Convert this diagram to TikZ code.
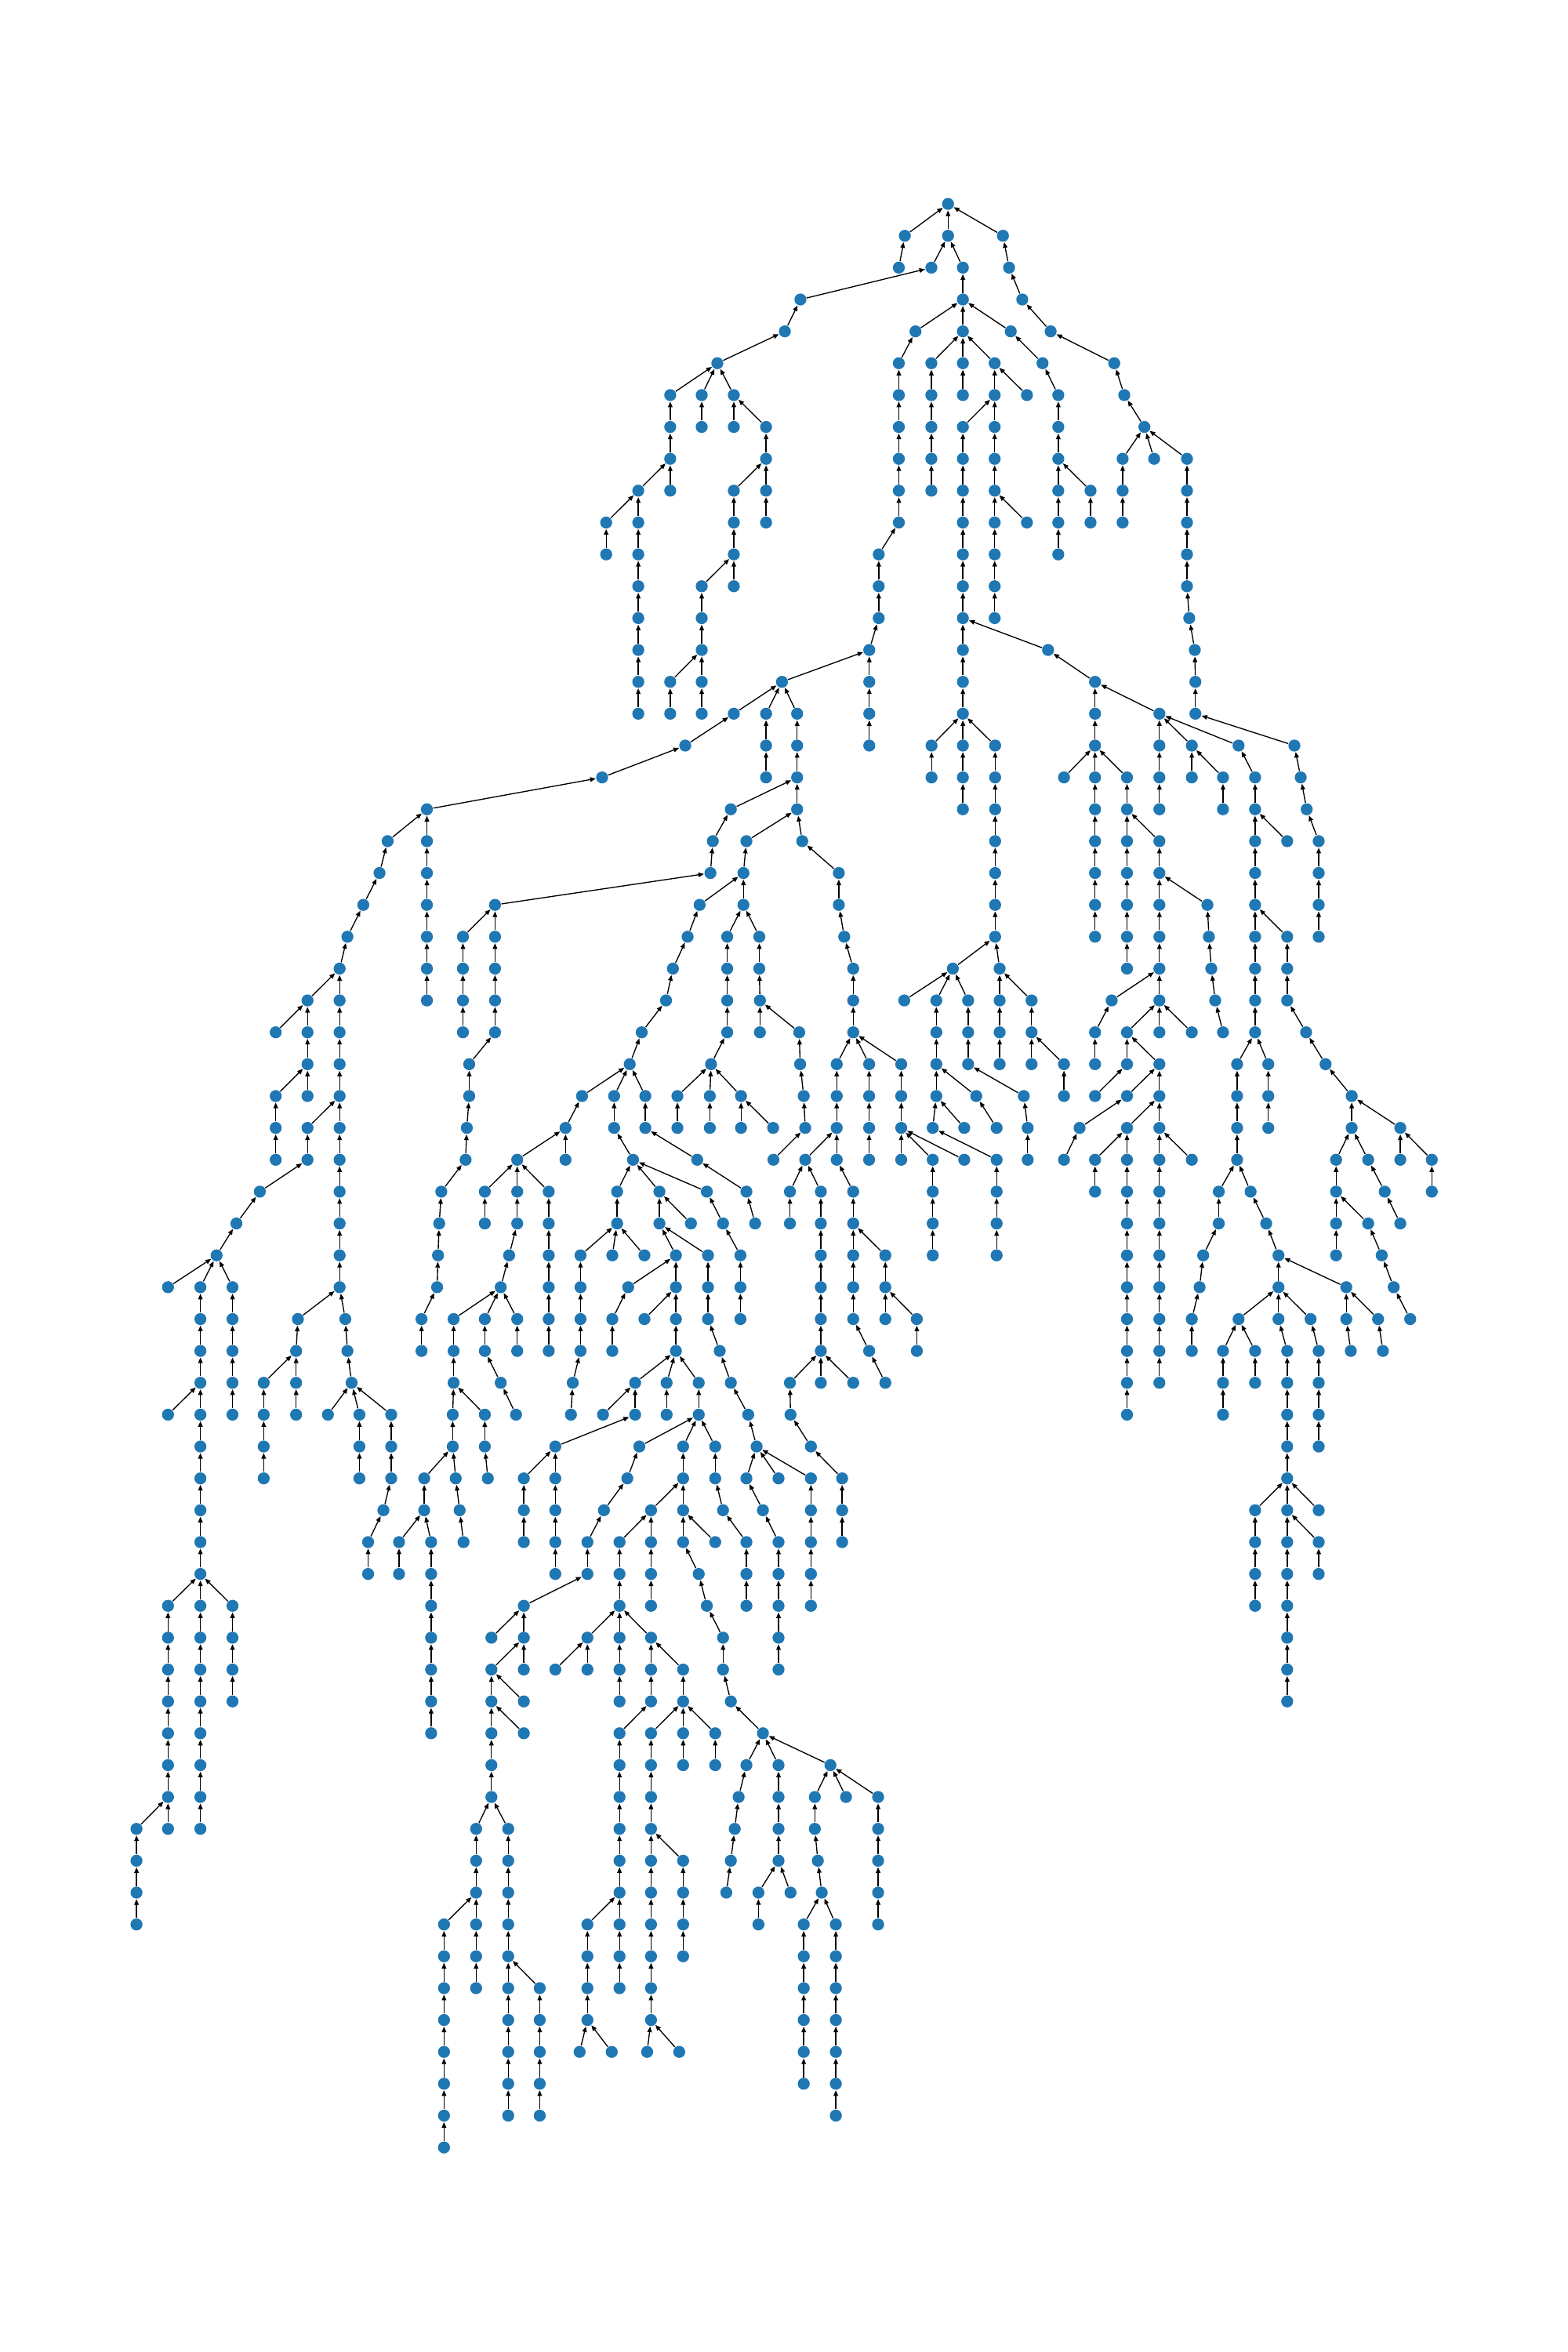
\documentclass[tikz,border=0pt]{standalone}
\usepackage{tikz}
\usetikzlibrary{arrows.meta}
\definecolor{nxblue}{RGB}{31,119,180}
\tikzset{
  >={Triangle[length=0.75mm,width=0.6mm]},
  vertex/.style={circle, fill=nxblue, draw=none, inner sep=0pt, minimum size=1.6mm},
  link/.style={->, line width=0.4pt, draw=black}
}
\begin{document}
\begin{tikzpicture}[x=0.2mm, y=-4.248mm]
  \useasboundingbox (0,0) rectangle (1045,73.82);
  \node[vertex] (v1) at (632,6.4) {};
  \foreach \id/\x/\lvl/\up in {
    2/603.2/1/1, 3/632/1/1, 4/668.6/1/1,
    5/599.2/2/2, 6/620.9/2/3, 7/641.9/2/3, 8/672.7/2/4,
    9/533.6/3/6, 10/641.9/3/7, 11/681.5/3/8,
    12/523.2/4/9, 13/610.3/4/10, 14/641.9/4/10, 15/673.8/4/10, 16/700.4/4/11,
    17/478.2/5/12, 18/599.2/5/13, 19/620.9/5/14, 20/641.9/5/14, 21/663.1/5/14, 22/695/5/15, 23/742.8/5/16,
    24/446.8/6/17, 25/467.8/6/17, 26/489.2/6/17, 27/599.2/6/18, 28/620.9/6/19, 29/641.9/6/20, 30/663.1/6/21, 31/684.6/6/21, 32/705.5/6/22, 33/749.5/6/23,
    34/446.8/7/24, 35/467.8/7/25, 36/489.2/7/26, 37/510.7/7/26, 38/599.2/7/27, 39/620.9/7/28, 40/641.9/7/30, 41/663.1/7/30, 42/705.5/7/32, 43/762.9/7/33,
    44/446.8/8/34, 45/510.7/8/37, 46/599.2/8/38, 47/620.9/8/39, 48/641.9/8/40, 49/663.1/8/41, 50/705.5/8/42, 51/748.4/8/43, 52/769.4/8/43, 53/791.3/8/43,
    54/425.5/9/44, 55/446.8/9/44, 56/489.2/9/45, 57/510.7/9/45, 58/599.2/9/46, 59/620.9/9/47, 60/641.9/9/48, 61/663.1/9/49, 62/705.5/9/50, 63/727/9/50, 64/748.4/9/51, 65/791.3/9/53,
    66/404.1/10/54, 67/425.5/10/54, 68/489.2/10/56, 69/510.7/10/57, 70/599.2/10/58, 71/641.9/10/60, 72/663.1/10/61, 73/684.6/10/61, 74/705.5/10/62, 75/727/10/63, 76/748.4/10/64, 77/791.3/10/65,
    78/404.1/11/66, 79/425.5/11/67, 80/489.2/11/68, 81/585.8/11/70, 82/641.9/11/71, 83/663.1/11/72, 84/705.5/11/74, 85/791.3/11/77,
    86/425.5/12/79, 87/467.8/12/80, 88/489.2/12/80, 89/585.8/12/81, 90/641.9/12/82, 91/663.1/12/83, 92/791.3/12/85,
    93/425.5/13/86, 94/467.8/13/87, 95/585.8/13/89, 96/641.9/13/90, 97/663.1/13/91, 98/792.8/13/92,
    99/425.5/14/93, 100/467.8/14/94, 101/579.5/14/95, 102/641.9/14/96, 103/698.7/14/96, 104/796.5/14/98,
    105/425.5/15/99, 106/446.8/15/100, 107/467.8/15/100, 108/521.3/15/101, 109/579.5/15/101, 110/641.9/15/102, 111/730/15/103, 112/796.9/15/104,
    113/425.5/16/105, 114/446.8/16/106, 115/467.8/16/107, 116/489.2/16/108, 117/510.7/16/108, 118/531.4/16/108, 119/579.5/16/109, 120/641.9/16/110, 121/730/16/111, 122/772.9/16/111, 123/796.9/16/112,
    124/456.8/17/116, 125/510.7/17/117, 126/531.4/17/118, 127/579.5/17/119, 128/621/17/120, 129/641.9/17/120, 130/663.4/17/120, 131/730/17/121, 132/772.9/17/122, 133/794.5/17/122, 134/825.7/17/122, 135/862.9/17/123,
    136/401.4/18/124, 137/510.7/18/125, 138/531.4/18/126, 139/621/18/128, 140/641.9/18/129, 141/663.4/18/130, 142/709.3/18/131, 143/730/18/131, 144/751.3/18/131, 145/772.9/18/132, 146/794.5/18/133, 147/815.3/18/133, 148/836.7/18/134, 149/867.1/18/135,
    150/284.6/19/136, 151/487.2/19/138, 152/531.4/19/138, 153/641.9/19/140, 154/663.4/19/141, 155/730/19/143, 156/751.3/19/144, 157/772.9/19/145, 158/815.3/19/147, 159/836.7/19/148, 160/871.1/19/149,
    161/258.4/20/150, 162/284.6/20/150, 163/475.2/20/151, 164/497.6/20/152, 165/534.8/20/152, 166/663.4/20/154, 167/730/20/155, 168/751.3/20/156, 169/772.9/20/156, 170/836.7/20/159, 171/858.1/20/159, 172/879.1/20/160,
    173/253/21/161, 174/284.6/21/162, 175/473.6/21/163, 176/495.6/21/164, 177/559.2/21/165, 178/663.4/21/166, 179/730/21/167, 180/751.3/21/168, 181/772.9/21/169, 182/836.7/21/170, 183/879.1/21/172,
    184/242.2/22/173, 185/284.6/22/174, 186/330/22/175, 187/466.4/22/176, 188/495.6/22/176, 189/559.2/22/177, 190/663.4/22/178, 191/730/22/179, 192/751.3/22/180, 193/772.9/22/181, 194/804.9/22/181, 195/836.7/22/182, 196/879.1/22/183,
    197/231.6/23/184, 198/284.6/23/185, 199/308.6/23/186, 200/330/23/186, 201/458.4/23/187, 202/484.8/23/188, 203/506.2/23/188, 204/562.8/23/189, 205/663.4/23/190, 206/730/23/191, 207/751.3/23/192, 208/772.9/23/193, 209/805.9/23/194, 210/836.7/23/195, 211/858.1/23/195, 212/879.1/23/196,
    213/226.4/24/197, 214/284.6/24/198, 215/308.6/24/199, 216/330/24/200, 217/448.6/24/201, 218/484.8/24/202, 219/506.2/24/203, 220/568.8/24/204, 221/635.2/24/205, 222/666.4/24/205, 223/751.3/24/207, 224/772.9/24/208, 225/807.5/24/209, 226/836.7/24/210, 227/858.1/24/211,
    228/205/25/213, 229/226.4/25/213, 230/284.6/25/214, 231/308.6/25/215, 232/330/25/216, 233/444/25/217, 234/484.8/25/218, 235/506.6/25/219, 236/568.8/25/220, 237/602.8/25/221, 238/624.2/25/221, 239/645.4/25/221, 240/666.4/25/222, 241/687.7/25/222, 242/741.1/25/224, 243/772.9/25/224, 244/810.1/25/225, 245/836.7/25/226, 246/858.1/25/227,
    247/183.8/26/228, 248/205/26/228, 249/226.4/26/229, 250/308.6/26/231, 251/330/26/232, 252/427.8/26/233, 253/484.8/26/234, 254/506.6/26/235, 255/532.8/26/235, 256/568.8/26/236, 257/624.2/26/238, 258/645.4/26/239, 259/666.4/26/240, 260/687.7/26/241, 261/730/26/242, 262/751.3/26/243, 263/772.9/26/243, 264/794.5/26/243, 265/815.3/26/244, 266/836.7/26/245, 267/870.7/26/246,
    268/205/27/248, 269/226.4/27/249, 270/312.8/27/251, 271/419.8/27/252, 272/474/27/253, 273/533.4/27/255, 274/557.8/27/256, 275/579.4/27/256, 276/600.8/27/256, 277/624.2/27/257, 278/645.4/27/258, 279/666.4/27/259, 280/687.7/27/260, 281/709.3/27/260, 282/730/27/261, 283/751.3/27/262, 284/772.9/27/262, 285/824.7/27/266, 286/845.5/27/266, 287/883.7/27/267,
    288/183.8/28/268, 289/205/28/268, 290/226.4/28/269, 291/312.8/28/270, 292/388/28/271, 293/409.4/28/271, 294/430.2/28/271, 295/451.6/28/272, 296/473.2/28/272, 297/494/28/272, 298/535.8/28/273, 299/557.8/28/274, 300/579.4/28/275, 301/600.8/28/276, 302/624.2/28/277, 303/650.8/28/277, 304/682.5/28/278, 305/709.3/28/281, 306/730/28/283, 307/751.3/28/284, 308/772.9/28/284, 309/824.7/28/285, 310/845.5/28/286, 311/901.1/28/287,
    312/183.8/29/288, 313/205/29/290, 314/226.4/29/290, 315/311.2/29/291, 316/377/29/292, 317/409.4/29/293, 318/430.2/29/294, 319/451.6/29/295, 320/473.2/29/296, 321/494/29/297, 322/515.4/29/297, 323/536.8/29/298, 324/557.8/29/299, 325/579.4/29/300, 326/600.8/29/301, 327/621.8/29/302, 328/642.8/29/302, 329/664.4/29/303, 330/685.1/29/304, 331/719.7/29/307, 332/751.3/29/308, 333/772.9/29/308, 334/824.7/29/309, 335/845.5/29/310, 336/901.1/29/311, 337/933.5/29/311,
    338/183.8/30/312, 339/205/30/313, 340/226.4/30/314, 341/310.4/30/315, 342/344.8/30/316, 343/377/30/316, 344/422/30/317, 345/464.8/30/318, 346/515.6/30/323, 347/536.8/30/324, 348/557.8/30/324, 349/579.4/30/325, 350/600.8/30/326, 351/621.8/30/326, 352/642.8/30/326, 353/664.4/30/327, 354/685.1/30/330, 355/709.3/30/331, 356/730/30/332, 357/751.3/30/332, 358/772.9/30/333, 359/794.5/30/333, 360/824.7/30/334, 361/890.7/30/336, 362/912.1/30/336, 363/933.5/30/337, 364/954.5/30/337,
    365/173.2/31/339, 366/226.4/31/340, 367/294.2/31/341, 368/323.2/31/342, 369/344.8/31/342, 370/365.8/31/342, 371/411.4/31/344, 372/439.6/31/344, 373/471.2/31/344, 374/497.6/31/345, 375/526.6/31/347, 376/547.2/31/347, 377/568.8/31/348, 378/621.8/31/351, 379/664.4/31/353, 380/730/31/356, 381/751.3/31/357, 382/772.9/31/358, 383/812.5/31/360, 384/833.7/31/360, 385/890.7/31/361, 386/923.1/31/362, 387/954.5/31/364,
    388/157.6/32/365, 389/226.4/32/366, 390/292.8/32/367, 391/323.2/32/368, 392/344.8/32/369, 393/365.8/32/370, 394/411.4/32/371, 395/439.6/32/372, 396/460.6/32/372, 397/482/32/373, 398/503.4/32/374, 399/526.6/32/375, 400/547.2/32/376, 401/568.8/32/377, 402/621.8/32/378, 403/664.4/32/379, 404/751.3/32/381, 405/772.9/32/382, 406/812.5/32/383, 407/844.1/32/384, 408/890.7/32/385, 409/912.1/32/385, 410/933.5/32/386,
    411/144.4/33/388, 412/226.4/33/389, 413/292/33/390, 414/339.4/33/392, 415/365.8/33/393, 416/387/33/394, 417/408.2/33/394, 418/429.6/33/394, 419/450.6/33/395, 420/472/33/395, 421/493.6/33/397, 422/547.2/33/400, 423/568.8/33/401, 424/590.2/33/401, 425/621.8/33/402, 426/664.4/33/403, 427/751.3/33/404, 428/772.9/33/405, 429/802.1/33/406, 430/852.3/33/407, 431/890.7/33/408, 432/921.1/33/409,
    433/112/34/411, 434/133.6/34/411, 435/155/34/411, 436/226.4/34/412, 437/291.4/34/413, 438/333.8/34/414, 439/365.8/34/415, 440/387/34/416, 441/418.8/34/419, 442/450.6/34/419, 443/472/34/420, 444/493.6/34/421, 445/547.2/34/422, 446/568.8/34/423, 447/590.2/34/424, 448/751.3/34/427, 449/772.9/34/428, 450/799.7/34/429, 451/852.3/34/430, 452/897.5/34/430, 453/929.1/34/432,
    454/133.6/35/434, 455/155/35/435, 456/198.6/35/436, 457/230.2/35/436, 458/281/35/437, 459/302.4/35/438, 460/323.2/35/438, 461/344.8/35/438, 462/365.8/35/439, 463/387/35/440, 464/408.2/35/441, 465/429.6/35/442, 466/450.6/35/442, 467/472/35/443, 468/493.6/35/444, 469/547.2/35/445, 470/568.8/35/446, 471/590.2/35/447, 472/611.2/35/447, 473/751.3/35/448, 474/772.9/35/449, 475/794.5/35/450, 476/825.7/35/451, 477/852.3/35/451, 478/873.7/35/451, 479/897.5/35/452, 480/918.7/35/452, 481/940.1/35/453,
    482/133.6/36/454, 483/155/36/455, 484/197.4/36/456, 485/231.6/36/457, 486/281/36/458, 487/302.4/36/459, 488/323.2/36/460, 489/344.8/36/461, 490/365.8/36/462, 491/387/36/463, 492/408.2/36/464, 493/450.6/36/466, 494/479.8/36/467, 495/547.2/36/469, 496/579.4/36/470, 497/611.2/36/472, 498/751.3/36/473, 499/772.9/36/474, 500/794.5/36/475, 501/815.3/36/476, 502/836.7/36/476, 503/858.1/36/477, 504/879.1/36/478, 505/900.5/36/479, 506/921.9/36/480,
    507/133.6/37/482, 508/155/37/483, 509/175.8/37/484, 510/197.4/37/484, 511/234.4/37/485, 512/302.4/37/487, 513/333.8/37/488, 514/381.8/37/491, 515/423.4/37/493, 516/444.4/37/493, 517/465.8/37/493, 518/487.2/37/494, 519/526.6/37/495, 520/547.2/37/495, 521/568.8/37/495, 522/590.2/37/496, 523/751.3/37/498, 524/772.9/37/499, 525/815.3/37/501, 526/836.7/37/502, 527/858.1/37/503, 528/879.1/37/504,
    529/112/38/507, 530/133.6/38/507, 531/155/38/508, 532/175.8/38/509, 533/197.4/38/510, 534/218.6/38/511, 535/239.6/38/511, 536/260.8/38/511, 537/301.8/38/512, 538/323.2/38/512, 539/344/38/513, 540/380.6/38/514, 541/402/38/515, 542/423.4/38/515, 543/444.4/38/516, 544/465.8/38/517, 545/498.8/38/518, 546/527/38/519, 547/751.3/38/523, 548/815.3/38/525, 549/858.1/38/527, 550/879.1/38/528,
    551/133.6/39/530, 552/175.8/39/532, 553/239.6/39/535, 554/260.8/39/536, 555/301.8/39/537, 556/323.2/39/538, 557/370.2/39/542, 558/426.2/39/544, 559/455.4/39/544, 560/476.8/39/544, 561/504.4/39/545, 562/540.6/39/546, 563/858.1/39/549, 564/879.1/39/550,
    565/133.6/40/551, 566/175.8/40/552, 567/239.6/40/553, 568/260.8/40/554, 569/282.8/40/555, 570/303.8/40/555, 571/325.2/40/556, 572/349.2/40/557, 573/370.2/40/557, 574/418.2/40/558, 575/455.4/40/559, 576/476.8/40/560, 577/497.6/40/561, 578/519/40/561, 579/540.6/40/561, 580/561.4/40/562, 581/858.1/40/563,
    582/133.6/41/565, 583/255.6/41/568, 584/282.8/41/569, 585/306.4/41/570, 586/349.2/41/572, 587/370.2/41/573, 588/402.6/41/574, 589/434/41/575, 590/455.4/41/575, 591/482/41/576, 592/508.6/41/577, 593/540.6/41/579, 594/561.4/41/580, 595/836.7/41/581, 596/858.1/41/581, 597/879.1/41/581,
    598/133.6/42/582, 599/245.4/42/583, 600/266/42/584, 601/287.4/42/584, 602/309/42/585, 603/349.2/42/586, 604/370.2/42/587, 605/391.6/42/588, 606/413/42/589, 607/434/42/589, 608/455.4/42/590, 609/476.8/42/590, 610/497.6/42/591, 611/519/42/592, 612/540.6/42/593, 613/561.4/42/594, 614/836.7/42/595, 615/858.1/42/596, 616/879.1/42/596,
    617/133.6/43/598, 618/245.4/43/599, 619/266/43/600, 620/287.4/43/601, 621/370.2/43/604, 622/391.6/43/605, 623/413/43/606, 624/434/43/607, 625/465.8/43/608, 626/497.6/43/610, 627/519/43/611, 628/540.6/43/612, 629/836.7/43/614, 630/858.1/43/615, 631/879.1/43/616,
    632/112/44/617, 633/133.6/44/617, 634/155/44/617, 635/287.4/44/620, 636/349.2/44/622, 637/413/44/623, 638/434/44/624, 639/471.2/44/625, 640/497.6/44/626, 641/519/44/627, 642/540.6/44/628, 643/836.7/44/629, 644/858.1/44/630,
    645/112/45/632, 646/133.6/45/633, 647/155/45/634, 648/287.4/45/635, 649/327.6/45/636, 650/349.2/45/636, 651/391.6/45/637, 652/413/45/637, 653/434/45/637, 654/482/45/639, 655/519/45/641, 656/858.1/45/644,
    657/112/46/645, 658/133.6/46/646, 659/155/46/647, 660/287.4/46/648, 661/327.6/46/650, 662/349.2/46/650, 663/370.2/46/651, 664/391.6/46/651, 665/413/46/652, 666/434/46/653, 667/455.4/46/653, 668/482/46/654, 669/519/46/655, 670/858.1/46/656,
    671/112/47/657, 672/133.6/47/658, 673/155/47/659, 674/287.4/47/660, 675/327.6/47/661, 676/349.2/47/661, 677/434/47/666, 678/455.4/47/667, 679/487.2/47/668, 680/858.1/47/670, 681/413/47/665,
    682/112/48/671, 683/133.6/48/672, 684/287.4/48/674, 685/327.6/48/675, 686/349.2/48/675, 687/413/48/677, 688/434/48/678, 689/455.4/48/678, 690/476.8/48/678, 691/508.6/48/679,
    692/112/49/682, 693/133.6/49/683, 694/327.6/49/685, 695/413/49/687, 696/434/49/688, 697/455.4/49/689, 698/476.8/49/690, 699/497.6/49/691, 700/519/49/691, 701/553.6/49/691,
    702/112/50/692, 703/133.6/50/693, 704/327.6/50/694, 705/413/50/695, 706/434/50/696, 707/492.4/50/699, 708/519/50/700, 709/543.2/50/701, 710/564/50/701, 711/585.4/50/701,
    712/91/51/702, 713/112/51/702, 714/133.6/51/703, 715/317.4/51/704, 716/338.8/51/704, 717/413/51/705, 718/434/51/706, 719/489.8/51/707, 720/519/51/708, 721/543.2/51/709, 722/585.4/51/711,
    723/91/52/712, 724/317.4/52/715, 725/338.8/52/716, 726/413/52/717, 727/434/52/718, 728/455.4/52/718, 729/487.2/52/719, 730/519/52/720, 731/545.2/52/721, 732/585.4/52/722,
    733/91/53/723, 734/317.4/53/724, 735/338.8/53/725, 736/413/53/726, 737/434/53/727, 738/455.4/53/728, 739/484.2/53/729, 740/505.6/53/730, 741/527/53/730, 742/547.8/53/731, 743/585.4/53/732,
    744/91/54/733, 745/296/54/734, 746/317.4/54/734, 747/338.8/54/735, 748/391.6/54/736, 749/413/54/736, 750/434/54/737, 751/455.4/54/738, 752/505.6/54/740, 753/535.8/54/742, 754/557.2/54/742, 755/585.4/54/743,
    756/296/55/745, 757/317.4/55/746, 758/338.8/55/747, 759/391.6/55/748, 760/413/55/749, 761/434/55/750, 762/455.4/55/751, 763/535.8/55/753, 764/557.2/55/754,
    765/296/56/756, 766/317.4/56/757, 767/338.8/56/758, 768/359.8/56/758, 769/391.6/56/759, 770/413/56/760, 771/434/56/761, 772/535.8/56/763, 773/557.2/56/764,
    774/296/57/765, 775/338.8/57/767, 776/359.8/57/768, 777/391.6/57/769, 778/434/57/771, 779/535.8/57/772, 780/557.2/57/773,
    781/296/58/774, 782/338.8/58/775, 783/359.8/58/776, 784/386.4/58/777, 785/407.8/58/777, 786/431.4/58/778, 787/452.8/58/778, 788/535.8/58/779, 789/557.2/58/780,
    790/296/59/781, 791/338.8/59/782, 792/359.8/59/783, 793/535.8/59/788, 794/557.2/59/789,
    795/296/60/790, 796/338.8/60/791, 797/359.8/60/792, 798/557.2/60/794,
    799/296/61/795}{
    \node[vertex] (v\id) at (\x,\lvl+6.4) {};
    \draw[link] (v\id) -- (v\up);
  }
\end{tikzpicture}
\end{document}
